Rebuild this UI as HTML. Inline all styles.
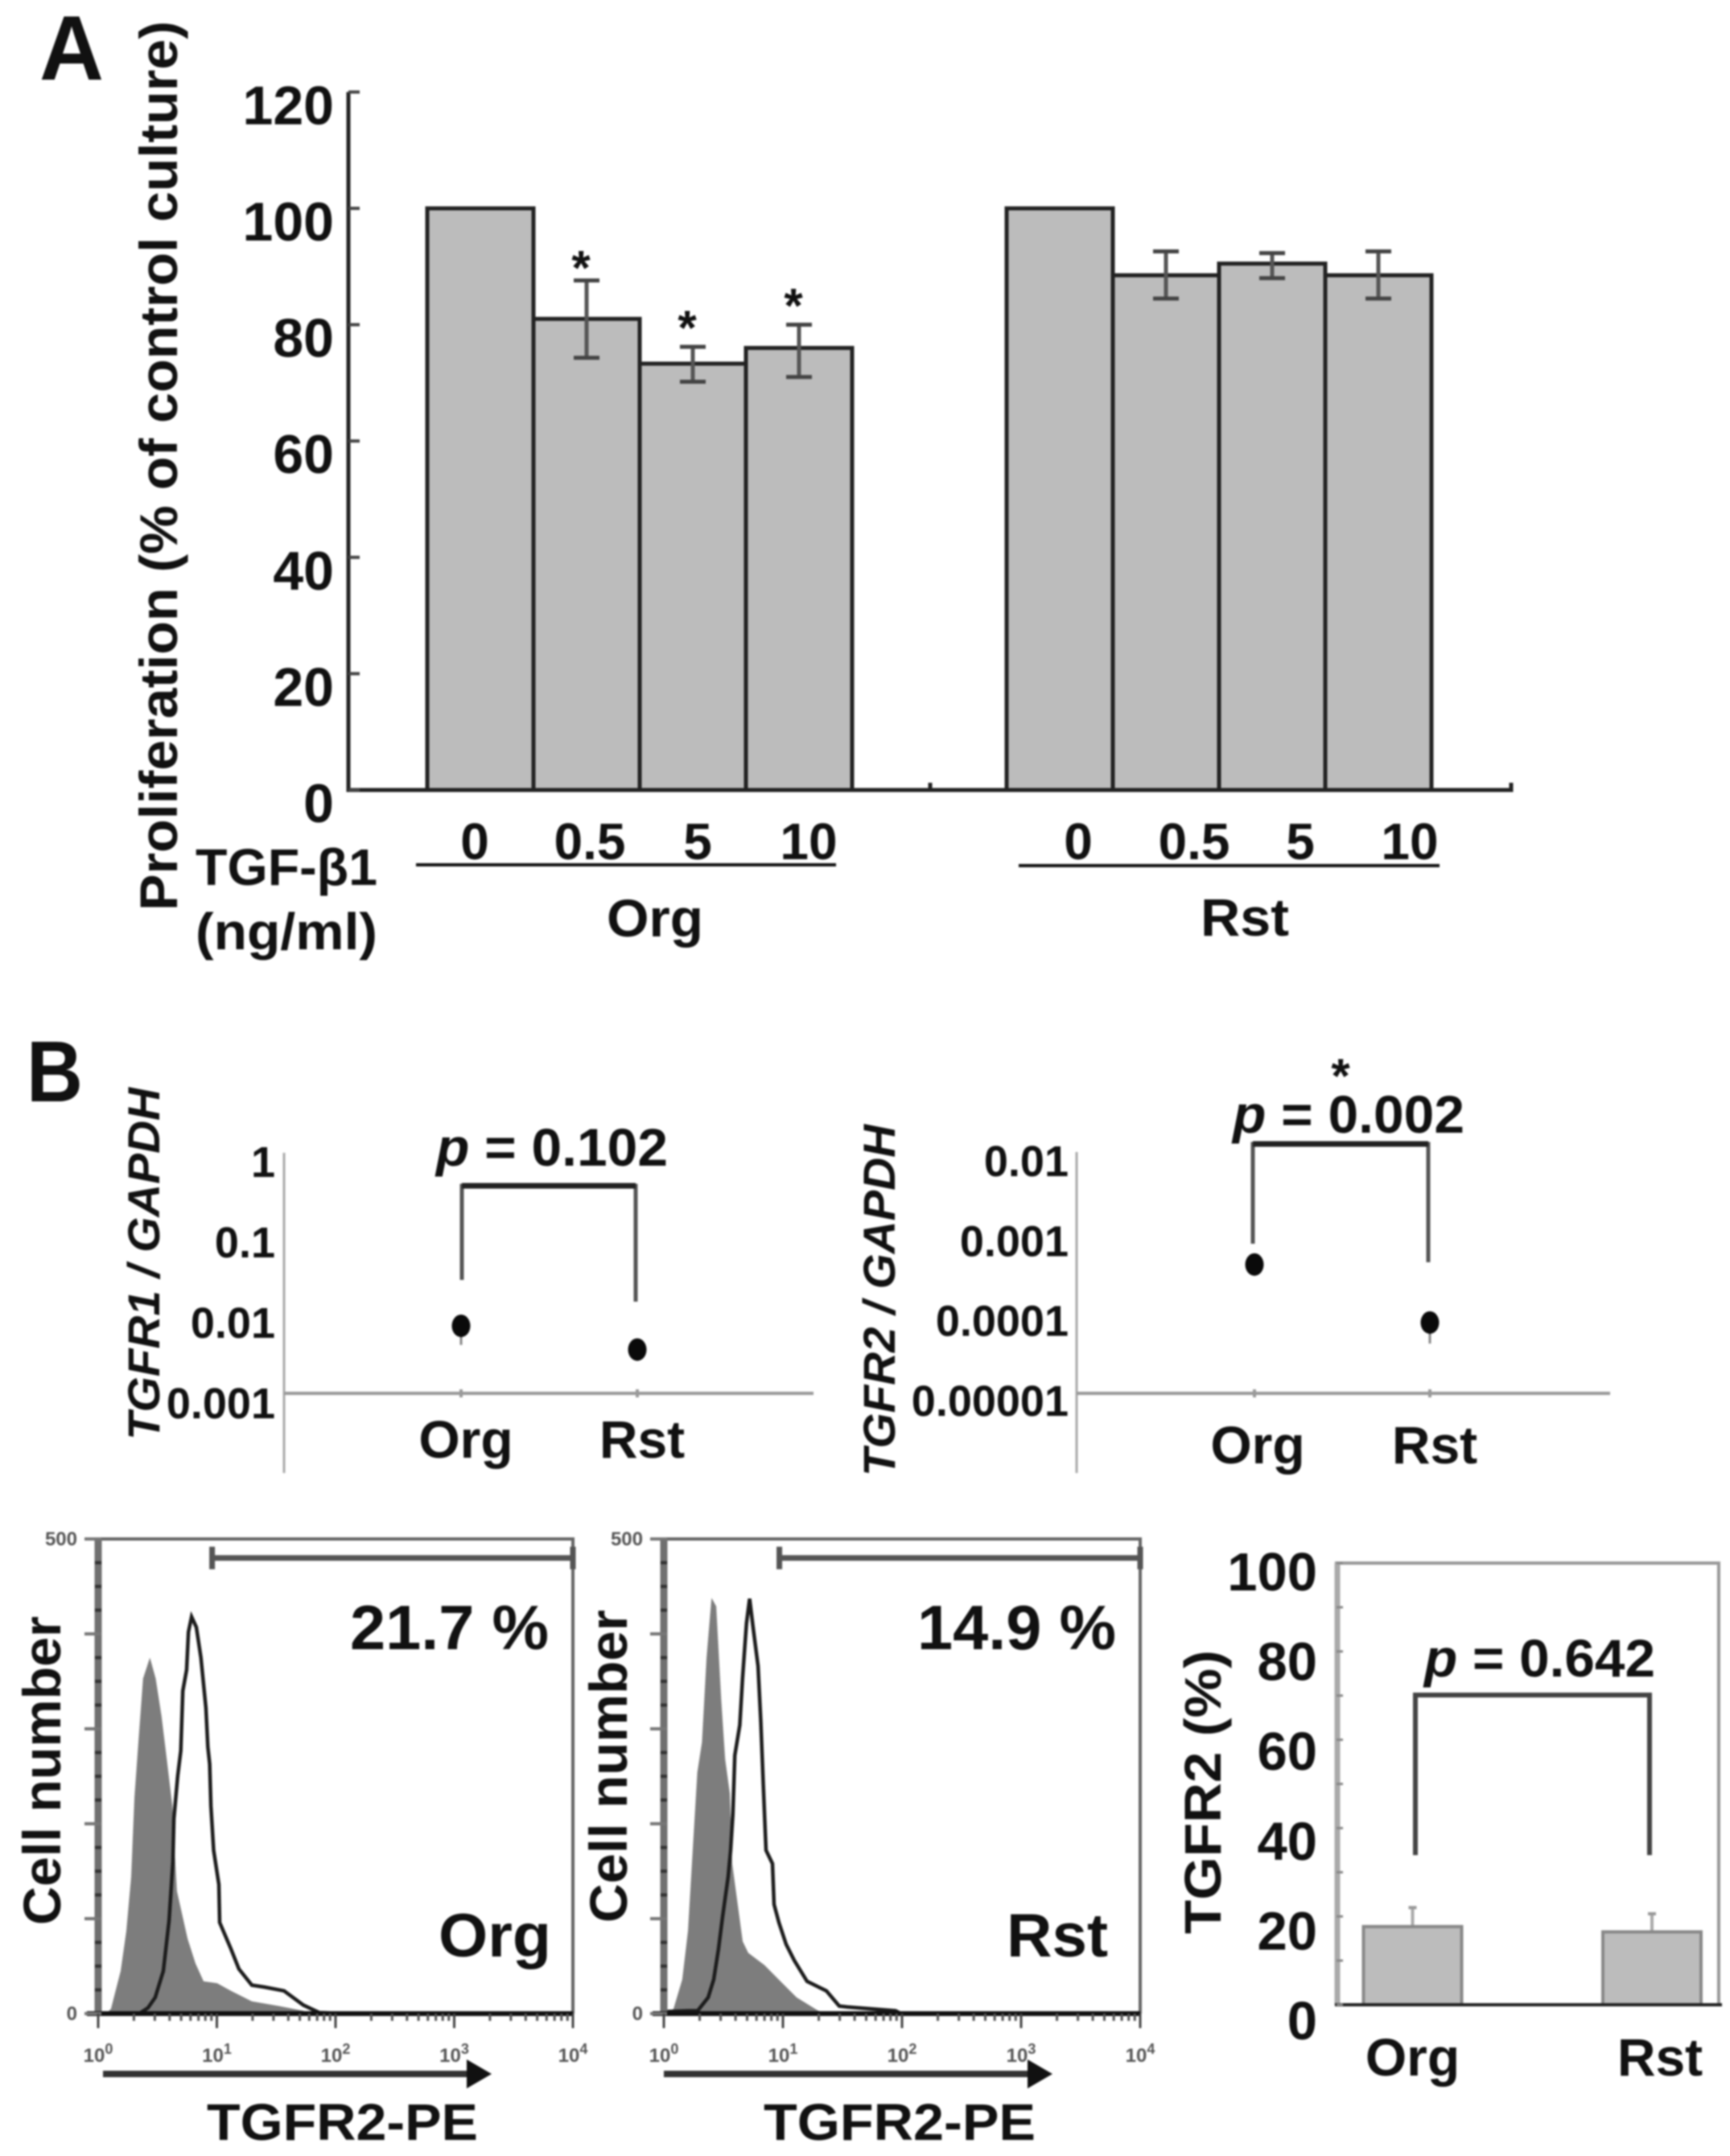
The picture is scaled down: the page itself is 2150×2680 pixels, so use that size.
<!DOCTYPE html>
<html lang="en">
<head>
<meta charset="utf-8">
<title>TGF-beta proliferation and TGFR expression figure</title>
<style>
html,body{margin:0;padding:0;background:#fff;}
svg{display:block;filter:blur(1.1px);}
text{font-family:"Liberation Sans",Arial,sans-serif;font-weight:bold;fill:#111;}
</style>
</head>
<body>
<svg id="fig" xmlns="http://www.w3.org/2000/svg" width="2150" height="2680" viewBox="0 0 2150 2680">
<rect width="2150" height="2680" fill="#fff"/>

<!-- Panel A static text -->
<text x="49" y="99" font-size="114" textLength="80" lengthAdjust="spacingAndGlyphs">A</text>
<text transform="translate(220,1132) rotate(-90)" font-size="66" textLength="1106" lengthAdjust="spacingAndGlyphs">Proliferation (% of control culture)</text>
<text x="243" y="1100" font-size="64" textLength="226" lengthAdjust="spacingAndGlyphs">TGF-β1</text>
<text x="243" y="1180" font-size="64" textLength="226" lengthAdjust="spacingAndGlyphs">(ng/ml)</text>
<line x1="517" y1="1075" x2="1039" y2="1075" stroke="#111" stroke-width="4"/>
<line x1="1266" y1="1076" x2="1789" y2="1076" stroke="#111" stroke-width="4"/>
<text x="754" y="1164" font-size="66" textLength="120" lengthAdjust="spacingAndGlyphs">Org</text>
<text x="1492" y="1163" font-size="66" textLength="110" lengthAdjust="spacingAndGlyphs">Rst</text>

<!-- Panel B static text -->
<text x="33" y="1369" font-size="108" textLength="70" lengthAdjust="spacingAndGlyphs">B</text>
<text transform="translate(198,1790) rotate(-90)" font-size="56" textLength="438" lengthAdjust="spacingAndGlyphs" style="font-style:italic">TGFR1 / GAPDH</text>
<text transform="translate(1112,1835) rotate(-90)" font-size="56" textLength="437" lengthAdjust="spacingAndGlyphs" style="font-style:italic">TGFR2 /  GAPDH</text>
<text x="542" y="1449" font-size="66" textLength="288" lengthAdjust="spacingAndGlyphs"><tspan style="font-style:italic">p</tspan> = 0.102</text>
<text x="1532" y="1408" font-size="66" textLength="288" lengthAdjust="spacingAndGlyphs"><tspan style="font-style:italic">p</tspan> = 0.002</text>
<text x="1666" y="1358" font-size="60" text-anchor="middle">*</text>

<!-- Flow panel static text -->
<text transform="translate(75,2393) rotate(-90)" font-size="66" textLength="384" lengthAdjust="spacingAndGlyphs">Cell number</text>
<text transform="translate(779,2390) rotate(-90)" font-size="66" textLength="389" lengthAdjust="spacingAndGlyphs">Cell number</text>
<text x="435" y="2050" font-size="78" textLength="247" lengthAdjust="spacingAndGlyphs">21.7 %</text>
<text x="1140" y="2050" font-size="78" textLength="247" lengthAdjust="spacingAndGlyphs">14.9 %</text>
<text x="545" y="2432" font-size="76" textLength="140" lengthAdjust="spacingAndGlyphs">Org</text>
<text x="1251" y="2432" font-size="76" textLength="126" lengthAdjust="spacingAndGlyphs">Rst</text>
<text x="257" y="2660" font-size="64" textLength="337" lengthAdjust="spacingAndGlyphs">TGFR2-PE</text>
<text x="949" y="2660" font-size="64" textLength="338" lengthAdjust="spacingAndGlyphs">TGFR2-PE</text>

<!-- Right bar static text -->
<text transform="translate(1517,2404) rotate(-90)" font-size="64" textLength="353" lengthAdjust="spacingAndGlyphs">TGFR2 (%)</text>
<text x="1770" y="2084" font-size="66" textLength="287" lengthAdjust="spacingAndGlyphs"><tspan style="font-style:italic">p</tspan> = 0.642</text>

<g id="dyn"></g>
</svg>

<script>
// Panel A data
const doseLabels = ["0", "0.5", "5", "10"];
const orgProliferation = [100, 81, 73.3, 76];
const orgErrHigh = [null, 87.6, 76.2, 80];
const orgErrLow = [null, 74.3, 70.2, 71];
const orgStarLevel = [null, 86.9, 76.6, 80.4];
const rstProliferation = [100, 88.5, 90.5, 88.5];
const rstErrHigh = [null, 92.6, 92.3, 92.6];
const rstErrLow = [null, 84.5, 88, 84.5];
const rstStarLevel = [null, null, null, null];
const proliferationTicks = [0, 20, 40, 60, 80, 100, 120];

// Panel B qPCR data
const qpcrCategories = ["Org", "Rst"];
const tgfr1Values = [0.0069, 0.0035];
const tgfr1ErrLow = [0.004, 0.0028];
const tgfr1Ticks = [1, 0.1, 0.01, 0.001];
const tgfr1TickLabels = ["1", "0.1", "0.01", "0.001"];
const tgfr2Values = [0.00041, 0.000077];
const tgfr2ErrLow = [0.00031, 0.000042];
const tgfr2Ticks = [0.01, 0.001, 0.0001, 0.00001];
const tgfr2TickLabels = ["0.01", "0.001", "0.0001", "0.00001"];

// Flow cytometry data (log10 fluorescence, cell count)
const orgIsotypeLog = [0,0.075,0.108,0.19,0.237,0.278,0.306,0.339,0.378,0.436,0.485,0.534,0.583,0.625,0.644,0.664,0.753,0.82,0.888,0.95,1.003,1.119,1.295,1.525,1.729,1.79];
const orgIsotypeCount = [0,1,5,45,87,144,228,286,353,375,353,313,263,219,172,129,79,53,34,33,32,24,13,8,3,0];
const orgStainLog = [0,0.346,0.42,0.481,0.549,0.597,0.63,0.638,0.67,0.696,0.713,0.745,0.761,0.787,0.827,0.866,0.908,0.924,0.94,0.95,0.973,1.017,1.024,1.119,1.186,1.295,1.4,1.566,1.729,1.864,2.1,4];
const orgStainCount = [0,0,6,17,45,98,160,205,250,277,340,362,402,418,407,375,322,281,263,219,172,136,96,68,47,30,28,24,9,1,0,0];
const rstIsotypeLog = [0,0.04,0.081,0.155,0.203,0.236,0.281,0.32,0.359,0.401,0.44,0.482,0.515,0.554,0.574,0.62,0.662,0.709,0.845,0.98,1.115,1.297,1.4];
const rstIsotypeCount = [0,2,5,36,87,158,254,286,375,438,429,331,268,232,158,115,76,64,51,34,17,3,0];
const rstStainLog = [0,0.2,0.284,0.372,0.419,0.459,0.493,0.54,0.561,0.58,0.596,0.638,0.661,0.694,0.72,0.749,0.791,0.814,0.835,0.858,0.912,0.926,0.966,1.027,1.095,1.203,1.365,1.473,1.541,1.946,1.99,4];
const rstStainCount = [2,3,3,17,36,68,102,144,172,210,272,304,353,411,437,407,366,308,241,172,158,115,96,73,56,34,24,8,7,3,0,0];
const orgGateStartLog = [0.96];
const rstGateStartLog = [0.97];
const flowGateCount = [480];
const flowXTickExponents = [0, 1, 2, 3, 4];
const flowYTickLabels = [0, 500];

// TGFR2 percent bar data
const percentCategories = ["Org", "Rst"];
const percentValues = [17.7, 16.5];
const percentErrHigh = [22, 20.6];
const percentTicks = [0, 20, 40, 60, 80, 100];

const NS = "http://www.w3.org/2000/svg";
const root = document.getElementById("dyn");
function mk(tag, attrs) {
  const el = document.createElementNS(NS, tag);
  for (const k in attrs) el.setAttribute(k, attrs[k]);
  root.appendChild(el);
  return el;
}

/* ---------- Panel A ---------- */
const yA = v => 982 - v * 7.23;
const bandW = 132;
const groupX = (start, i) => start + i * bandW;

function drawGroup(start, values, hi, lo, starLevel, labelCenters) {
  values.forEach((v, i) => {
    const bar = mk("rect", {x: groupX(start, i), y: yA(v), width: bandW, height: yA(0) - yA(v), fill: "#bcbcbc", stroke: "#222", "stroke-width": 5});
    
    
  });
  values.forEach((v, i) => {
    const cx = groupX(start, i) + bandW / 2;
    if (hi[i] !== null) {
      const stem = mk("line", {x1: cx, x2: cx, y1: yA(hi[i]), y2: yA(lo[i]), stroke: "#555", "stroke-width": 5});
      
      
      [hi[i], lo[i]].forEach(e => {
        const cap = mk("line", {x1: cx - 16, x2: cx + 16, y1: yA(e), y2: yA(e), stroke: "#444", "stroke-width": 5});
        
        
      });
    }
    if (starLevel[i] !== null) {
      const star = mk("text", {x: cx - 7, y: yA(starLevel[i]), "font-size": 60, "text-anchor": "middle"});
      star.textContent = "*";
      
      
    }
    const t = mk("text", {x: labelCenters[i], y: 1068, "font-size": 64, "text-anchor": "middle"});
    t.textContent = doseLabels[i];
    
    
  });
}
drawGroup(531, orgProliferation, orgErrHigh, orgErrLow, orgStarLevel, [590, 733, 867, 1005]);
drawGroup(1251, rstProliferation, rstErrHigh, rstErrLow, rstStarLevel, [1340, 1484, 1616, 1752]);

const axA = mk("path", {d: `M433 ${yA(120)}V${yA(0)}H1878V${yA(0) - 9}M1156 ${yA(0)}V${yA(0) - 9}`, fill: "none", stroke: "#222", "stroke-width": 5});


proliferationTicks.forEach(v => {
  const tk = mk("line", {x1: 433, x2: 447, y1: yA(v), y2: yA(v), stroke: "#444", "stroke-width": 4});
  
  
  const lb = mk("text", {x: 415, y: yA(v) + 40, "font-size": 68, "text-anchor": "end"});
  lb.textContent = v;
  
  
});

/* ---------- Panel B qPCR ---------- */
function drawQpcr(cfg) {
  const y = v => cfg.y0 - (Math.log10(v) - cfg.minLog) * cfg.decade;
  const vAxis = mk("line", {x1: cfg.ax, x2: cfg.ax, y1: cfg.top, y2: 1831, stroke: "#aaa", "stroke-width": 3});
  
  
  const hAxis = mk("line", {x1: cfg.ax, x2: cfg.right, y1: cfg.y0, y2: cfg.y0, stroke: "#999", "stroke-width": 4});
  
  
  cfg.ticks.forEach((v, i) => {
    const lb = mk("text", {x: cfg.labelRight, y: y(v) + cfg.labelDy, "font-size": 54, "text-anchor": "end"});
    lb.textContent = cfg.tickLabels[i];
    
    
  });
  cfg.values.forEach((v, i) => {
    const cx = cfg.cats[i];
    const xt = mk("line", {x1: cx, x2: cx, y1: cfg.y0 - 5, y2: cfg.y0 + 5, stroke: "#999", "stroke-width": 4});
    
    
    const err = mk("line", {x1: cx, x2: cx, y1: y(v), y2: y(cfg.errLow[i]), stroke: "#888", "stroke-width": 3});
    
    
    const pt = mk("ellipse", {cx: cx, cy: y(v), rx: 11.5, ry: 14, fill: "#0a0a0a"});
    
    
    const lb = mk("text", {x: cfg.labelX[i], y: cfg.labelY, "font-size": 66, "text-anchor": "middle"});
    lb.textContent = qpcrCategories[i];
    
    
  });
  const br = mk("path", {d: `M${cfg.bx[0]} ${cfg.bb[0]}V${cfg.bt}H${cfg.bx[1]}V${cfg.bb[1]}`, fill: "none", stroke: "#555", "stroke-width": 5});
  
  
  const brTop = mk("line", {x1: cfg.bx[0], x2: cfg.bx[1], y1: cfg.bt, y2: cfg.bt, stroke: "#222", "stroke-width": 7});
  
  
}
drawQpcr({ax: 353, top: 1433, right: 1011, y0: 1732, minLog: -3, decade: 100, ticks: tgfr1Ticks, tickLabels: tgfr1TickLabels, labelDy: 31, values: tgfr1Values, errLow: tgfr1ErrLow, cats: [573, 792], labelRight: 342, labelX: [579, 798], labelY: 1812, bx: [574, 790], bb: [1591, 1618], bt: 1474});
drawQpcr({ax: 1338, top: 1432, right: 2001, y0: 1732, minLog: -5, decade: 99.3, ticks: tgfr2Ticks, tickLabels: tgfr2TickLabels, labelDy: 28, values: tgfr2Values, errLow: tgfr2ErrLow, cats: [1559, 1777], labelRight: 1328, labelX: [1563, 1783], labelY: 1819, bx: [1557, 1775], bb: [1546, 1569], bt: 1422});

/* ---------- Flow histograms ---------- */
function drawFlow(cfg) {
  const x = l => cfg.left + l * (cfg.right - cfg.left) / 4;
  const y = c => cfg.bottom - c * (cfg.bottom - cfg.top) / 500;
  const toPath = (ls, cs) => ls.map((l, i) => (i ? "L" : "M") + x(l).toFixed(1) + " " + y(cs[i]).toFixed(1)).join("");
  const fill = mk("path", {d: toPath(cfg.isoL, cfg.isoC) + "Z", fill: "#7d7d7d"});
  
  
  const line = mk("path", {d: toPath(cfg.stL, cfg.stC), fill: "none", stroke: "#1c1c1c", "stroke-width": 4.5});
  
  
  const frame = mk("path", {d: `M${cfg.left} ${cfg.bottom}V${cfg.top}H${cfg.right}V${cfg.bottom}`, fill: "none", stroke: "#666", "stroke-width": 4});
  
  
  const leftAxis = mk("line", {x1: cfg.left, x2: cfg.left, y1: cfg.top, y2: cfg.bottom, stroke: "#707070", "stroke-width": 9});
  
  
  const base = mk("line", {x1: cfg.left - 14, x2: cfg.right, y1: cfg.bottom, y2: cfg.bottom, stroke: "#111", "stroke-width": 6});
  
  
  for (let c = 0; c <= 500; c += 25) {
    const major = c % 100 === 0;
    const tk = mk("line", {x1: cfg.left - (major ? 17 : 4), x2: cfg.left + 4, y1: y(c), y2: y(c), stroke: major ? "#777" : "#333", "stroke-width": 4});
    
    
  }
  flowYTickLabels.forEach(c => {
    const lb = mk("text", {x: cfg.left - 26, y: y(c) + 8, "font-size": 24, "text-anchor": "end", style: "fill:#555"});
    lb.textContent = c;
    
    
  });
  flowXTickExponents.forEach(e => {
    const tk = mk("line", {x1: x(e), x2: x(e), y1: cfg.bottom, y2: cfg.bottom + 18, stroke: "#444", "stroke-width": 3});
    
    
    if (e < 4) {
      for (let m = 2; m < 10; m++) {
        const mt = mk("line", {x1: x(e + Math.log10(m)), x2: x(e + Math.log10(m)), y1: cfg.bottom, y2: cfg.bottom + 9, stroke: "#555", "stroke-width": 3});
        
        
      }
    }
    const lb = mk("text", {x: x(e), y: 2563, "font-size": 24, "text-anchor": "middle", style: "fill:#555"});
    lb.textContent = "10";
    const sup = document.createElementNS(NS, "tspan");
    sup.setAttribute("dy", "-10");
    sup.setAttribute("font-size", "18");
    sup.textContent = e;
    lb.appendChild(sup);
    
    
  });
  const gate = mk("path", {d: `M${x(cfg.gateStart)} ${y(flowGateCount[0]) - 14}v28M${x(cfg.gateStart)} ${y(flowGateCount[0])}H${x(4)}M${x(4)} ${y(flowGateCount[0]) - 14}v28`, fill: "none", stroke: "#555", "stroke-width": 7});
  
  
  const shaft = mk("line", {x1: cfg.arrowX, x2: cfg.arrowX + 455, y1: 2578, y2: 2578, stroke: "#333", "stroke-width": 8});
  
  
  const head = mk("polygon", {points: `${cfg.arrowX + 452},2560 ${cfg.arrowX + 483},2578 ${cfg.arrowX + 452},2596`, fill: "#111"});
  
  
}
drawFlow({left: 122, right: 712, top: 1913, bottom: 2503, isoL: orgIsotypeLog, isoC: orgIsotypeCount, stL: orgStainLog, stC: orgStainCount, gateStart: orgGateStartLog[0], arrowX: 128});
drawFlow({left: 825, right: 1417, top: 1913, bottom: 2503, isoL: rstIsotypeLog, isoC: rstIsotypeCount, stL: rstStainLog, stC: rstStainCount, gateStart: rstGateStartLog[0], arrowX: 825});

/* ---------- TGFR2 percent bars ---------- */
const yP = v => 2492 - v * 5.49;
const barCenters = [1755.5, 2053];
percentValues.forEach((v, i) => {
  const cx = barCenters[i];
  const err = mk("line", {x1: cx, x2: cx, y1: yP(percentErrHigh[i]), y2: yP(v), stroke: "#aaa", "stroke-width": 4});
  
  
  const cap = mk("line", {x1: cx - 5, x2: cx + 5, y1: yP(percentErrHigh[i]), y2: yP(percentErrHigh[i]), stroke: "#999", "stroke-width": 4});
  
  
  const bar = mk("rect", {x: cx - 61, y: yP(v), width: 122, height: yP(0) - yP(v), fill: "#bcbcbc", stroke: "#888", "stroke-width": 4});
  
  
  const lb = mk("text", {x: cx + (i ? 10 : 0), y: 2580, "font-size": 66, "text-anchor": "middle"});
  lb.textContent = percentCategories[i];
  
  
});
const frameP = mk("path", {d: `M1661 ${yP(0)}V${yP(100)}H2136V${yP(0)}`, fill: "none", stroke: "#999", "stroke-width": 4});


const leftP = mk("line", {x1: 1662, x2: 1662, y1: yP(100), y2: yP(0), stroke: "#aaa", "stroke-width": 7});


const baseP = mk("line", {x1: 1659, x2: 2140, y1: yP(0), y2: yP(0), stroke: "#222", "stroke-width": 4});


for (let v = 0; v <= 100; v += 10) {
  const tk = mk("line", {x1: 1661, x2: 1669, y1: yP(v), y2: yP(v), stroke: "#888", "stroke-width": 3});
  
  
}
percentTicks.forEach(v => {
  const lb = mk("text", {x: 1637, y: yP(v) + 43 - v * 0.09, "font-size": 67, "text-anchor": "end"});
  lb.textContent = v;
  
  
});
const brP = mk("path", {d: `M1759 2306V2107H2050V2306`, fill: "none", stroke: "#444", "stroke-width": 6});


</script>
</body>
</html>
